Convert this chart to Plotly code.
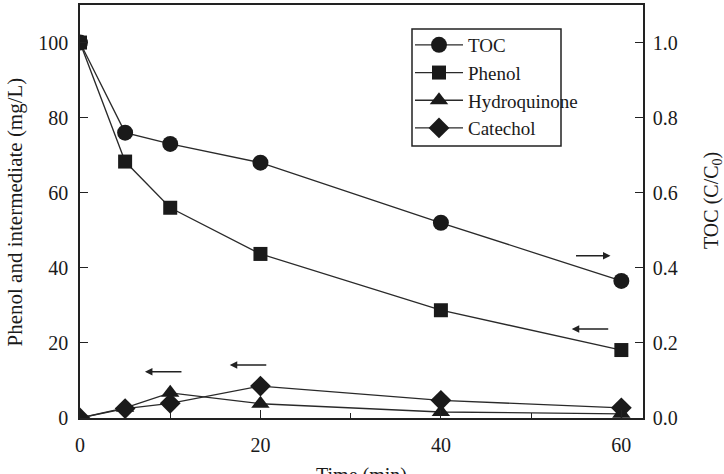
import plotly.graph_objects as go

time = [0, 5, 10, 20, 40, 60]
toc = [1.0, 0.76, 0.73, 0.68, 0.52, 0.365]
phenol = [100, 68.3, 56, 43.7, 28.7, 18.1]
hydroquinone = [0, 2.7, 6.7, 3.8, 1.6, 1.1]
catechol = [0, 2.5, 3.9, 8.5, 4.7, 2.7]

FONT = "Liberation Serif"
INK = "#1a1a1a"
LINE = dict(color="#2a2a2a", width=1.3)

fig = go.Figure()
fig.add_trace(go.Scatter(x=time, y=toc, name="TOC", yaxis="y2", mode="lines+markers",
                         line=LINE, marker=dict(symbol="circle", size=16, color=INK)))
fig.add_trace(go.Scatter(x=time, y=phenol, name="Phenol", mode="lines+markers",
                         line=LINE, marker=dict(symbol="square", size=14, color=INK)))
fig.add_trace(go.Scatter(x=time, y=hydroquinone, name="Hydroquinone", mode="lines+markers",
                         line=LINE, marker=dict(symbol="triangle-up", size=16, color=INK)))
fig.add_trace(go.Scatter(x=time, y=catechol, name="Catechol", mode="lines+markers",
                         line=LINE, marker=dict(symbol="diamond", size=16, color=INK)))

arrows = [  # (tip x, tip y on left axis, tail offset px)
    (58.8, 43.2, -36),
    (54.5, 23.7, 38),
    (7.2, 12.3, 38),
    (16.6, 14.1, 38),
]
for x, y, ax in arrows:
    fig.add_annotation(x=x, y=y, ax=ax, ay=0, showarrow=True, arrowhead=2,
                       arrowsize=1, arrowwidth=1.5, arrowcolor="#222", text="")

# axis titles placed as annotations for precise placement
fig.add_annotation(xref="paper", yref="paper", x=-0.1155, y=0.5, text="Phenol and intermediate (mg/L)",
                   textangle=-90, showarrow=False, xanchor="center", yanchor="middle",
                   font=dict(family=FONT, size=21, color=INK))
fig.add_annotation(xref="paper", yref="paper", x=(713 - 80) / 563, y=(418 - 201) / 413,
                   text="TOC (C/C<sub>0</sub>)", textangle=-90, showarrow=False,
                   xanchor="center", yanchor="middle", font=dict(family=FONT, size=20, color=INK))
fig.add_annotation(xref="paper", yref="paper", x=0.5, y=(418 - 462) / 413, text="Time (min)",
                   showarrow=False, xanchor="center", yanchor="top",
                   font=dict(family=FONT, size=20, color=INK))

# legend frame (narrower than the text, as in the reference)
px = lambda v: (v - 80) / 563
py = lambda v: (418 - v) / 413
fig.add_shape(type="rect", xref="paper", yref="paper", x0=px(412), x1=px(561),
              y0=py(146), y1=py(29), line=dict(color="#222", width=1.5), layer="above")

axis_common = dict(showline=True, linecolor="#222", linewidth=1.5, ticks="inside",
                   tickcolor="#222", showgrid=False, zeroline=False, automargin=False,
                   tickfont=dict(family=FONT, size=20, color=INK))

fig.update_layout(
    width=724, height=474,
    margin=dict(l=80, r=81, t=5, b=56),
    paper_bgcolor="white", plot_bgcolor="white",
    font=dict(family=FONT, size=20, color=INK),
    xaxis=dict(range=[0, 62.4], tickvals=[0, 20, 40, 60], ticklen=8, mirror=True,
               ticklabelstandoff=8,
               minor=dict(tickvals=[10, 30, 50], ticklen=5, ticks="inside", tickcolor="#222"),
               **axis_common),
    yaxis=dict(range=[0, 110], tickvals=[0, 20, 40, 60, 80, 100], ticklen=8,
               ticklabelstandoff=6, **axis_common),
    yaxis2=dict(range=[0, 1.1], tickvals=[0, 0.2, 0.4, 0.6, 0.8, 1.0], tickformat=".1f",
                overlaying="y", side="right", ticklen=8, ticklabelstandoff=4,
                **axis_common),
    legend=dict(x=px(410), y=py(26), xanchor="left", yanchor="top",
                borderwidth=0, bgcolor="rgba(255,255,255,0)",
                font=dict(family=FONT, size=19, color=INK), itemwidth=48, tracegroupgap=0),
    showlegend=True,
)

fig.write_html("out.html")
